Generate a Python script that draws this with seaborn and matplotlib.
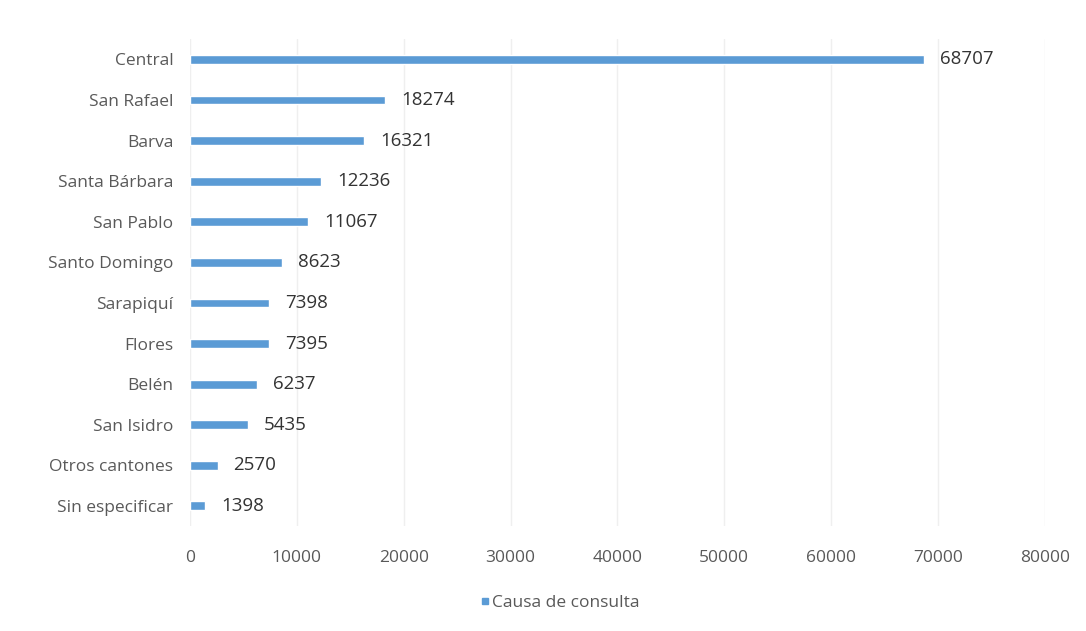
import matplotlib
matplotlib.use("Agg")
import matplotlib.pyplot as plt
import seaborn as sns
import pandas as pd
from matplotlib.lines import Line2D

cantones = ["Central", "San Rafael", "Barva", "Santa Bárbara", "San Pablo",
            "Santo Domingo", "Sarapiquí", "Flores", "Belén", "San Isidro",
            "Otros cantones", "Sin especificar"]
consultas = [68707, 18274, 16321, 12236, 11067, 8623, 7398, 7395, 6237, 5435,
             2570, 1398]
x_ticks = [0, 10000, 20000, 30000, 40000, 50000, 60000, 70000, 80000]
serie = "Causa de consulta"

df = pd.DataFrame({"canton": cantones, "valor": consultas})

sns.set_theme(style="white")
plt.rcParams["font.family"] = ["Open Sans", "DejaVu Sans"]

bar_color = "#5B9BD5"
text_gray = "#595959"

fig = plt.figure(figsize=(10.86, 6.31), dpi=100)
ax = fig.add_axes([0.175, 0.166, 0.787, 0.772])

sns.barplot(data=df, y="canton", x="valor", orient="h", color=bar_color,
            width=0.22, saturation=1, ax=ax)

ax.set_xlim(x_ticks[0], x_ticks[-1])
ax.set_xticks(x_ticks)
ax.set_xticklabels([str(t) for t in x_ticks], fontsize=12.5, color=text_gray)
ax.tick_params(axis="x", pad=17, length=0)
ax.tick_params(axis="y", pad=12, length=0, labelsize=12.5, labelcolor=text_gray)
ax.set_xlabel("")
ax.set_ylabel("")

ax.grid(axis="x", color="#EFEFEF", linewidth=1)
ax.set_axisbelow(True)
for s in ax.spines.values():
    s.set_visible(False)

for i, v in enumerate(consultas):
    ax.text(v + 1500, i, str(v), va="center", ha="left", fontsize=13.5,
            color="#333333")

handle = Line2D([], [], marker="s", linestyle="none", markersize=5,
                markerfacecolor=bar_color, markeredgecolor=bar_color)
fig.legend([handle], [serie], loc="center", bbox_to_anchor=(0.515, 0.045),
           frameon=False, fontsize=12.5, labelcolor=text_gray,
           handletextpad=0.1, handlelength=0.6)

fig.savefig("out.png", dpi=100, facecolor="white")
